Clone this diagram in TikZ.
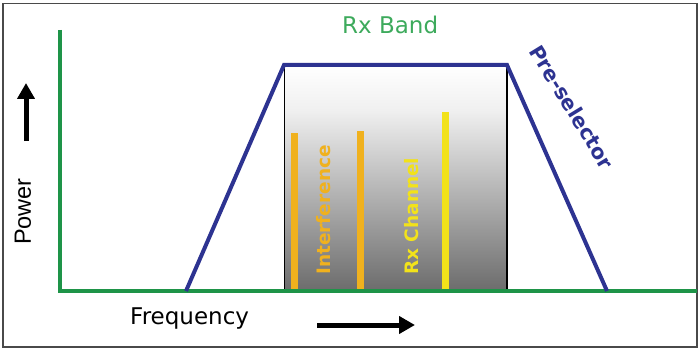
\documentclass[tikz,border=0pt]{standalone}
\usepackage{fontspec}
\setmainfont{DejaVu Sans}
\newfontfamily\arialfont{Liberation Sans}
\usetikzlibrary{arrows.meta}
\definecolor{axisgreen}{HTML}{1E9448}
\definecolor{labelgreen}{HTML}{3DAA5C}
\definecolor{filterblue}{HTML}{2D3391}
\definecolor{intorange}{HTML}{F0B11E}
\definecolor{chanyellow}{HTML}{F2E21A}
\definecolor{framegray}{HTML}{4A4A4A}
\definecolor{bandlight}{HTML}{F0F0F0}
\definecolor{banddark}{HTML}{6C6C6C}
\tikzset{
  axisline/.style={draw=axisgreen, line width=4pt},
  filterline/.style={draw=filterblue, line width=4pt, line join=miter},
  toneline/.style={line width=7pt},
  dirarrow/.style={line width=5pt, -{Triangle[length=16pt,width=17pt]}},
  lbl/.style={inner sep=0pt, font=\fontsize{23}{26}\selectfont},
  vlbl/.style={inner sep=0pt, rotate=90, anchor=west, font=\bfseries\fontsize{18.5}{21}\selectfont},
}
\begin{document}
\begin{tikzpicture}[x=1pt,y=-1pt]
\useasboundingbox (0,0) rectangle (700,350);
% outer frame
\draw[framegray, line width=1.8pt] (3,3.5) rectangle (697,347);

% pass-band shading (light upper part, darkening downwards) with thin side walls
\shade[top color=white, bottom color=bandlight] (284,65) rectangle (507,110.5);
\shade[top color=bandlight, bottom color=banddark] (284,110) rectangle (507,291);
\draw[black, line width=0.8pt] (284,65) -- (284,291);
\draw[black, line width=1.5pt] (507,65) -- (507,291);

% spectral lines
\coordinate (i1b) at (294,291); \coordinate (i1t) at (294,133);
\coordinate (i2b) at (360,291); \coordinate (i2t) at (360,131);
\coordinate (chb) at (445,291); \coordinate (cht) at (445,112);
\draw[toneline, intorange] (i1b) -- (i1t);
\draw[toneline, intorange] (i2b) -- (i2t);
\draw[toneline, chanyellow] (chb) -- (cht);

% axes
\coordinate (ytop) at (60,30);
\coordinate (orig) at (60,291);
\coordinate (xend) at (697,291);
\draw[axisline] (ytop) -- (orig) -- (xend);

% pre-selector response
\coordinate (f1) at (186,291);
\coordinate (f2) at (284,65);
\coordinate (f3) at (507,65);
\coordinate (f4) at (607,291);
\draw[filterline] (f1) -- (f2) -- (f3) -- (f4);

% labels
\node[lbl, text=labelgreen, anchor=west] (band) at (342,25) {Rx Band};
\node[lbl, text=filterblue, rotate=-58.5, font=\bfseries\fontsize{20.5}{23}\selectfont] (presel) at (572,107) {Pre-selector};
\node[vlbl, text=intorange] (intf) at (324,275) {Interference};
\node[vlbl, text=chanyellow] (chan) at (412,275) {Rx Channel};
\node[lbl, rotate=90, anchor=west, font=\arialfont\fontsize{23.5}{27}\selectfont] (power) at (23,245) {Power};
\node[lbl, anchor=west] (freq) at (130,319) {Frequency};

% direction arrows
\coordinate (ua) at (26,141); \coordinate (ub) at (26,83);
\coordinate (ra) at (317,325); \coordinate (rb) at (415,325);
\draw[dirarrow] (ua) -- (ub);
\draw[dirarrow] (ra) -- (rb);
\end{tikzpicture}
\end{document}
